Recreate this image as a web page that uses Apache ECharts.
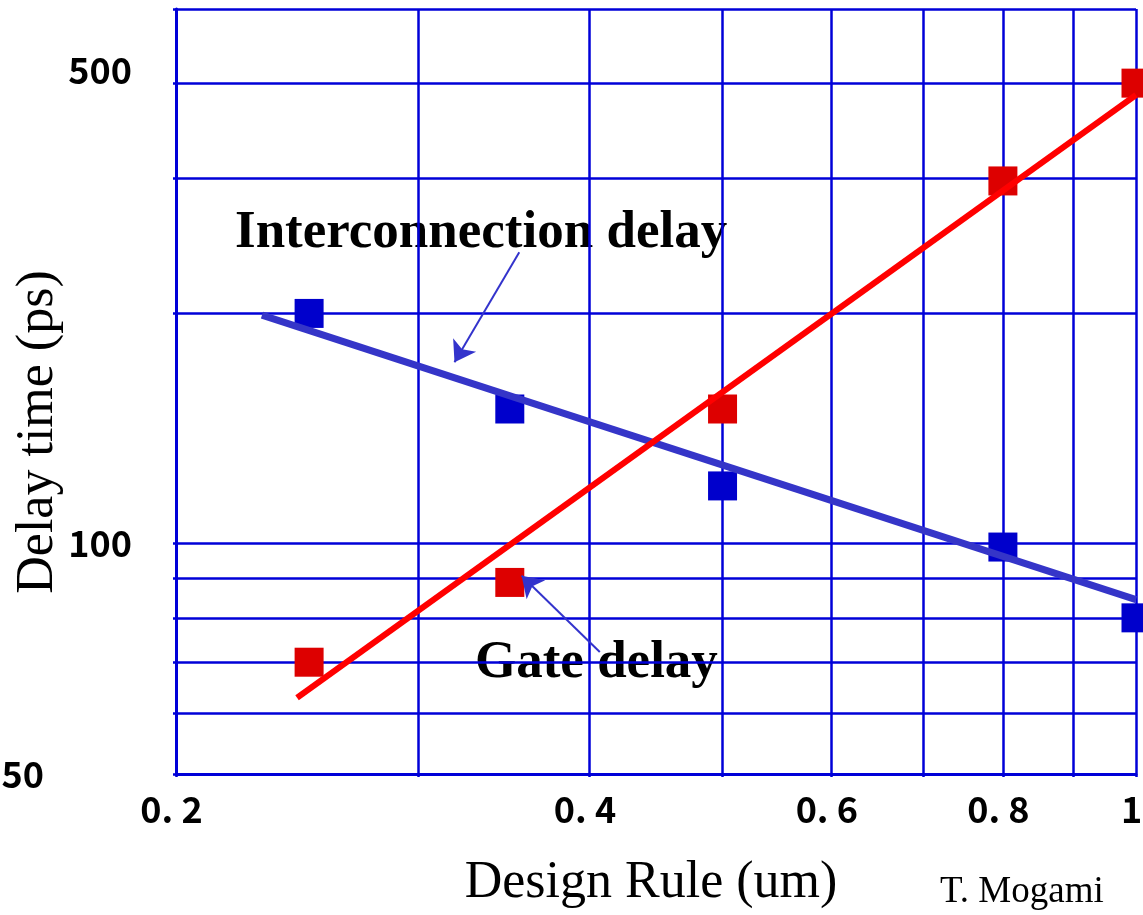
<!DOCTYPE html>
<html>
<head>
<meta charset="UTF-8" />
<title>Delay time vs design rule</title>
<script src="https://cdn.jsdelivr.net/npm/echarts@6/dist/echarts.min.js"></script>
<style>
  html, body { margin: 0; padding: 0; background: #fff; }
  #main { width: 1143px; height: 915px; }
</style>
</head>
<body>
<div id="main"></div>
<script>
// design rule (um)
var designRule = [0.25, 0.35, 0.5, 0.8, 1.0];
// measured delays (ps)
var interconnectDelay = [200, 150, 119, 99, 80];
var gateDelay = [70, 89, 150, 298, 400];
// trend lines, [design rule, ps] at both ends
var interconnectFit = [[0.231, 199], [1.0, 84.5]];
var gateFit = [[0.245, 62.9], [1.0, 386]];
// arrows from the labels, [from, to]
var interconnectArrow = [[0.3556, 240.5], [0.319, 172.7]];
var gateArrow = [[0.407, 72.2], [0.357, 90.8]];

var xGrid = [0.2, 0.3, 0.4, 0.5, 0.6, 0.7, 0.8, 0.9, 1.0];
var xTicks = [0.2, 0.4, 0.6, 0.8, 1.0];
var xTickText = ['0. 2', '0. 4', '0. 6', '0. 8', '1'];
var yGrid = [50, 60, 70, 80, 90, 100, 200, 300, 400, 500];
var yTicks = [50, 100, 400];
var yTickText = ['50', '100', '500'];   // original chart prints "500" on the 400 line

var gridBlue = '#0000d8';
var tickFont = '"Noto Sans CJK JP", "Noto Sans", sans-serif';
var serif = '"Liberation Serif", "Times New Roman", serif';

function pick(list, texts, v) {
  for (var i = 0; i < list.length; i++) {
    if (Math.abs(list[i] - v) < list[i] * 1e-6) return texts[i];
  }
  return '';
}
function pairs(xs, ys) {
  return xs.map(function (x, i) { return [x, ys[i]]; });
}

var tickStyle = { fontFamily: tickFont, fontSize: 36, fontWeight: 'bold', color: '#000' };

var chart = echarts.init(document.getElementById('main'));

chart.setOption({
  animation: false,
  backgroundColor: '#fff',
  grid: { left: 176, right: 7, top: 9, bottom: 141, outerBoundsMode: 'none' },
  xAxis: {
    type: 'log',
    logBase: 10,
    min: 0.2,
    max: 1,
    axisLine: { show: true, lineStyle: { color: gridBlue, width: 3 } },
    axisTick: { show: true, length: 3, customValues: xGrid, lineStyle: { color: gridBlue, width: 2.5 } },
    splitLine: { show: true, lineStyle: { color: gridBlue, width: 2.5 } },
    axisLabel: {
      customValues: xTicks,
      margin: 17,
      formatter: function (v) { return '{t|' + pick(xTicks, xTickText, v) + '}'; },
      rich: {
        t: echarts.util.extend({ padding: [0, 9, 0, 0] }, tickStyle)
      }
    }
  },
  yAxis: {
    type: 'log',
    logBase: 10,
    min: 50,
    max: 500,
    axisLine: { show: true, lineStyle: { color: gridBlue, width: 3 } },
    axisTick: { show: true, length: 3, customValues: yGrid, lineStyle: { color: gridBlue, width: 2.5 } },
    splitLine: { show: true, lineStyle: { color: gridBlue, width: 2.5 } },
    axisLabel: {
      customValues: yTicks,
      margin: 44,
      formatter: function (v) {
        var s = pick(yTicks, yTickText, v);
        if (v < 55) return '{lo|' + s + '}';
        if (v > 300) return '{up|' + s + '}';
        return '{t|' + s + '}';
      },
      rich: {
        t: echarts.util.extend({}, tickStyle),
        lo: echarts.util.extend({ padding: [0, 88, 0, 0] }, tickStyle),
        up: echarts.util.extend({ padding: [0, 0, 26, 0] }, tickStyle)
      }
    }
  },
  series: [
    {
      name: 'Interconnection delay',
      type: 'scatter',
      symbol: 'rect',
      symbolSize: 29,
      itemStyle: { color: '#0000cc', opacity: 1 },
      data: pairs(designRule, interconnectDelay)
    },
    {
      name: 'Gate delay',
      type: 'scatter',
      symbol: 'rect',
      symbolSize: 29,
      itemStyle: { color: '#dd0000', opacity: 1 },
      data: pairs(designRule, gateDelay)
    },
    {
      name: 'Interconnection fit',
      type: 'line',
      symbol: 'none',
      lineStyle: { color: '#3535c8', width: 7 },
      data: interconnectFit,
      markLine: {
        silent: true,
        symbol: ['none', 'arrow'],
        symbolSize: 20,
        label: { show: false },
        lineStyle: { color: '#3333cc', width: 2, type: 'solid' },
        data: [
          [{ coord: interconnectArrow[0] }, { coord: interconnectArrow[1] }],
          [{ coord: gateArrow[0] }, { coord: gateArrow[1] }]
        ]
      }
    },
    {
      name: 'Gate fit',
      type: 'line',
      symbol: 'none',
      lineStyle: { color: '#ff0000', width: 6 },
      data: gateFit
    }
  ],
  graphic: [
    {
      type: 'text', x: 235, y: 233,
      style: { text: 'Interconnection delay', font: 'bold 53px ' + serif, fill: '#000',
               align: 'left', verticalAlign: 'middle', textAlign: 'left', textVerticalAlign: 'middle' }
    },
    {
      type: 'text', x: 475, y: 663,
      style: { text: 'Gate delay', font: 'bold 53px ' + serif, fill: '#000',
               align: 'left', verticalAlign: 'middle', textAlign: 'left', textVerticalAlign: 'middle' }
    },
    {
      type: 'text', x: 38, y: 432, rotation: Math.PI / 2,
      style: { text: 'Delay time (ps)', font: '52px ' + serif, fill: '#000',
               align: 'center', verticalAlign: 'middle', textAlign: 'center', textVerticalAlign: 'middle' }
    },
    {
      type: 'text', x: 651, y: 883,
      style: { text: 'Design Rule (um)', font: '52px ' + serif, fill: '#000',
               align: 'center', verticalAlign: 'middle', textAlign: 'center', textVerticalAlign: 'middle' }
    },
    {
      type: 'text', x: 940, y: 892,
      style: { text: 'T. Mogami', font: '37px ' + serif, fill: '#000',
               align: 'left', verticalAlign: 'middle', textAlign: 'left', textVerticalAlign: 'middle' }
    }
  ]
});
</script>
</body>
</html>
